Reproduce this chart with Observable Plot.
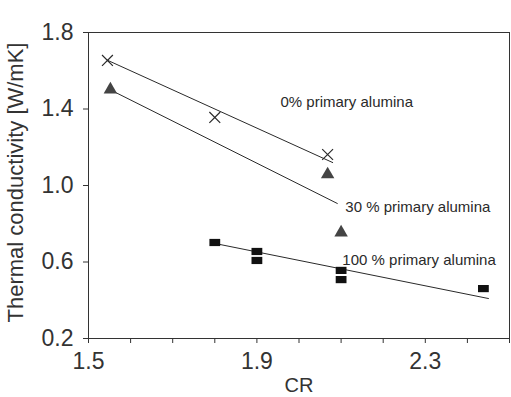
<!DOCTYPE html>
<html>
<head>
<meta charset="utf-8">
<script src="https://cdn.jsdelivr.net/npm/d3@7"></script>
<script src="https://cdn.jsdelivr.net/npm/@observablehq/plot@0.6"></script>
<style>
  html, body { margin: 0; padding: 0; background: #fff; }
  #chart { width: 511px; height: 397px; }
</style>
</head>
<body>
<div id="chart"></div>
<script>
// ---- data ----
const crossCR = [1.545, 1.80, 2.068];
const crossK  = [1.654, 1.356, 1.162];

const triCR = [1.552, 2.068, 2.10];
const triK  = [1.502, 1.058, 0.754];

const sqCR = [1.80, 1.90, 1.90, 2.10, 2.10, 2.438];
const sqK  = [0.702, 0.655, 0.608, 0.556, 0.508, 0.461];

// fitted lines (end points)
const fit0CR = [1.545, 2.08];
const fit0K  = [1.655, 1.12];
const fit30CR = [1.552, 2.091];
const fit30K  = [1.50, 0.906];
const fit100CR = [1.80, 2.45];
const fit100K  = [0.697, 0.409];

const labelText = ["0% primary alumina", "30 % primary alumina", "100 % primary alumina"];
const labelCR = [1.956, 2.110, 2.103];
const labelK  = [1.434, 0.885, 0.608];

const xTicks = [1.5, 1.6, 1.7, 1.8, 1.9, 2.0, 2.1, 2.2, 2.3, 2.4, 2.5];
const xTickLabels = [1.5, 1.9, 2.3];
const yTicks = [0.2, 0.6, 1.0, 1.4, 1.8];
const xTitle = "CR";
const yTitle = "Thermal conductivity [W/mK]";

// ---- build tables ----
const zip = (xs, ys) => xs.map((x, i) => ({cr: x, k: ys[i]}));
const crosses = zip(crossCR, crossK);
const tris = zip(triCR, triK);
const squares = zip(sqCR, sqK);
const fits = [
  ...zip(fit0CR, fit0K).map(d => ({...d, s: "0"})),
  ...zip(fit30CR, fit30K).map(d => ({...d, s: "30"})),
  ...zip(fit100CR, fit100K).map(d => ({...d, s: "100"}))
];
const labels = labelText.map((t, i) => ({t, cr: labelCR[i], k: labelK[i]}));

const ink = "#2a2a2a";
const rectSymbol = {
  draw(ctx, size) {
    const r = Math.sqrt(size / Math.PI);
    const w = r * 1.2, h = r * 0.8;
    ctx.rect(-w, -h, 2 * w, 2 * h);
  }
};

const chart = Plot.plot({
  width: 511,
  height: 397,
  marginLeft: 88,
  marginRight: 2,
  marginTop: 32,
  marginBottom: 59,
  style: {fontFamily: "'Liberation Sans', Arial, sans-serif", color: ink, background: "#fff"},
  x: {domain: [1.5, 2.5]},
  y: {domain: [0.2, 1.8]},
  marks: [
    Plot.frame({stroke: "#333", strokeWidth: 1}),
    Plot.axisY({ticks: yTicks, tickSize: 5, tickPadding: 10, tickFormat: d3.format(".1f"),
      fontSize: 23, label: null, stroke: "#333", fill: "#333"}),
    Plot.axisX({ticks: xTicks, tickSize: 5, tickFormat: () => "", label: null, stroke: "#333"}),
    Plot.axisX({ticks: xTickLabels, tickSize: 0, tickPadding: 14, tickFormat: d3.format(".1f"),
      fontSize: 23, label: null, fill: "#333"}),
    Plot.text([yTitle], {text: d => d, frameAnchor: "left", rotate: -90, dx: -73, dy: -3,
      textAnchor: "middle", lineAnchor: "middle",
      fontSize: 22, fill: "#333", letterSpacing: "2px"}),
    Plot.text([xTitle], {text: d => d, frameAnchor: "bottom", dy: 47, lineAnchor: "middle",
      fontSize: 20, fill: "#333"}),
    Plot.line(fits, {x: "cr", y: "k", z: "s", stroke: ink, strokeWidth: 1}),
    Plot.dot(crosses, {x: "cr", y: "k", symbol: "times", r: 5, stroke: ink, strokeWidth: 1.2}),
    Plot.dot(tris, {x: "cr", y: "k", symbol: "triangle", r: 5, fill: "#444", stroke: "none"}),
    Plot.dot(squares, {x: "cr", y: "k", symbol: rectSymbol, r: 4.5, fill: "#111", stroke: "none"}),
    Plot.text(labels, {x: "cr", y: "k", text: "t", textAnchor: "start", fontSize: 15,
      fill: ink, letterSpacing: "0.5px"})
  ]
});
document.getElementById("chart").appendChild(chart);
</script>
</body>
</html>
